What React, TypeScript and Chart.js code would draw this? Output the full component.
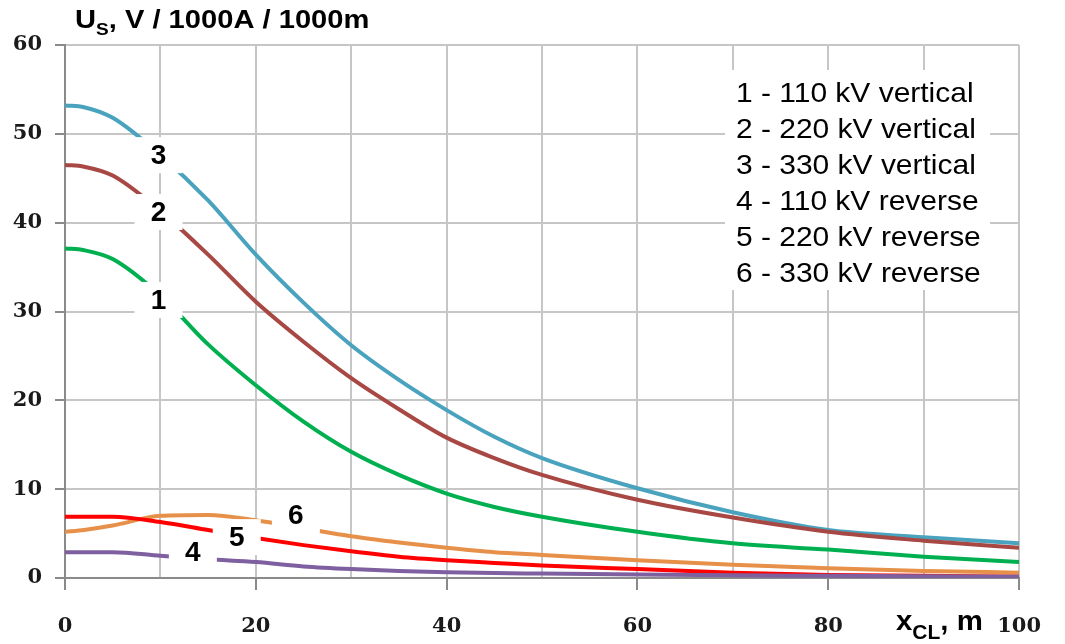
import React, { useEffect, useRef } from "react";
import { Chart, registerables } from "chart.js";

Chart.register(...registerables);

// Distance from centre line, m
const xValues = [0, 2, 5, 10, 15, 20, 25, 30, 35, 40, 45, 50, 60, 70, 80, 90, 100];

// U_S, V / 1000A / 1000m
const v110Vertical = [37.1, 36.9, 35.9, 31.8, 26.3, 21.7, 17.6, 14.2, 11.6, 9.5, 8.0, 6.9, 5.2, 3.9, 3.2, 2.4, 1.8];
const v220Vertical = [46.5, 46.3, 45.3, 41.3, 36.4, 31.1, 26.6, 22.5, 19.0, 15.8, 13.5, 11.6, 8.8, 6.8, 5.2, 4.2, 3.4];
const v330Vertical = [53.2, 53.0, 51.8, 47.6, 42.5, 36.4, 31.0, 26.2, 22.3, 18.9, 15.9, 13.5, 10.1, 7.4, 5.4, 4.6, 3.9];
const v110Reverse = [2.9, 2.9, 2.9, 2.5, 2.1, 1.8, 1.3, 1.0, 0.8, 0.65, 0.55, 0.5, 0.4, 0.3, 0.25, 0.2, 0.15];
const v220Reverse = [6.9, 6.9, 6.9, 6.3, 5.4, 4.5, 3.7, 3.0, 2.4, 2.0, 1.7, 1.4, 1.0, 0.6, 0.35, 0.25, 0.15];
const v330Reverse = [5.2, 5.4, 5.9, 7.0, 7.1, 6.5, 5.6, 4.7, 4.0, 3.4, 2.9, 2.6, 2.0, 1.5, 1.1, 0.8, 0.6];

const seriesValues = [v110Vertical, v220Vertical, v330Vertical, v110Reverse, v220Reverse, v330Reverse];
const seriesNames = ["1", "2", "3", "4", "5", "6"];
const legendLines = [
  "1 - 110 kV vertical",
  "2 - 220 kV vertical",
  "3 - 330 kV vertical",
  "4 - 110 kV reverse",
  "5 - 220 kV reverse",
  "6 - 330 kV reverse",
];
const seriesColors = ["#00B050", "#A84844", "#4AA3BE", "#7E5FA0", "#FF0000", "#E6904A"];
// label anchors in data units (x, y)
const labelAnchorX = [9.8, 9.8, 9.8, 13.4, 18.0, 24.2];
const labelAnchorY = [31.3, 41.2, 47.6, 2.9, 4.6, 7.1];

const yTicks = [0, 10, 20, 30, 40, 50, 60];

const annotationPlugin = {
  id: "annotations",
  afterDatasetsDraw(chart: any) {
    const ctx = chart.ctx as CanvasRenderingContext2D;
    const xs = chart.scales.x;
    const ys = chart.scales.y;
    ctx.save();
    // series number labels with white boxes
    ctx.font = "bold 28px 'Liberation Sans', Arial, sans-serif";
    ctx.textAlign = "center";
    ctx.textBaseline = "middle";
    for (let i = 0; i < seriesNames.length; i++) {
      const cx = xs.getPixelForValue(labelAnchorX[i]);
      const cy = ys.getPixelForValue(labelAnchorY[i]);
      ctx.fillStyle = "#ffffff";
      ctx.fillRect(cx - 24, cy - 18, 48, 36);
      ctx.fillStyle = "#000000";
      ctx.fillText(seriesNames[i], cx, cy + 1);
    }
    // legend box
    ctx.fillStyle = "#ffffff";
    ctx.fillRect(725, 70, 265, 220);
    ctx.fillStyle = "#000000";
    ctx.textAlign = "left";
    ctx.textBaseline = "alphabetic";
    ctx.font = "28px 'Liberation Sans', Arial, sans-serif";
    for (let i = 0; i < legendLines.length; i++) {
      ctx.save();
      ctx.translate(736, 102 + i * 36);
      ctx.scale(1.07, 1);
      ctx.fillText(legendLines[i], 0, 0);
      ctx.restore();
    }
    ctx.restore();
  },
  afterDraw(chart: any) {
    const ctx = chart.ctx as CanvasRenderingContext2D;
    ctx.save();
    ctx.fillStyle = "#000000";
    ctx.textBaseline = "alphabetic";
    ctx.textAlign = "left";
    // Title: U_S, V / 1000A / 1000m
    ctx.translate(75, 28);
    ctx.scale(1.12, 1);
    let x = 0;
    ctx.font = "bold 26px 'Liberation Sans', Arial, sans-serif";
    ctx.fillText("U", x, 0);
    x += ctx.measureText("U").width;
    ctx.font = "bold 17px 'Liberation Sans', Arial, sans-serif";
    ctx.fillText("S", x, 7);
    x += ctx.measureText("S").width;
    ctx.font = "bold 26px 'Liberation Sans', Arial, sans-serif";
    ctx.fillText(", V / 1000A / 1000m", x, 0);
    ctx.restore();

    // X axis label: x_CL, m
    ctx.save();
    ctx.fillStyle = "#000000";
    ctx.textBaseline = "alphabetic";
    ctx.textAlign = "left";
    ctx.translate(896, 630);
    ctx.scale(1.05, 1);
    x = 0;
    ctx.font = "bold 28px 'Liberation Sans', Arial, sans-serif";
    ctx.fillText("x", x, 0);
    x += ctx.measureText("x").width;
    ctx.font = "bold 20px 'Liberation Sans', Arial, sans-serif";
    ctx.fillText("CL", x, 9);
    x += ctx.measureText("CL").width;
    ctx.font = "bold 28px 'Liberation Sans', Arial, sans-serif";
    ctx.fillText(", m", x, 0);
    ctx.restore();
  },
};

export default function App() {
  const canvasRef = useRef<HTMLCanvasElement | null>(null);

  useEffect(() => {
    if (!canvasRef.current) return;
    const datasets = seriesValues.map((vals, i) => ({
      label: legendLines[i],
      data: vals.map((v, j) => ({ x: xValues[j], y: v })),
      borderColor: seriesColors[i],
      backgroundColor: seriesColors[i],
      borderWidth: 4,
      pointRadius: 0,
      tension: 0.4,
      cubicInterpolationMode: "monotone" as const,
      fill: false,
    }));
    const tickFont = { family: "'DejaVu Serif', serif", size: 21, weight: "bold" as const };
    const chart = new Chart(canvasRef.current, {
      type: "line",
      data: { datasets },
      plugins: [annotationPlugin],
      options: {
        animation: false,
        responsive: false,
        devicePixelRatio: 1,
        layout: { padding: { top: 45, right: 30, left: 0, bottom: 0 } },
        plugins: {
          legend: { display: false },
          tooltip: { enabled: false },
          title: { display: false },
        },
        scales: {
          x: {
            type: "linear",
            min: 0,
            max: 100,
            afterFit: (scale: any) => {
              scale.height = 66;
            },
            ticks: {
              stepSize: 10,
              autoSkip: false,
              maxRotation: 0,
              padding: 24,
              color: "#1a1a1a",
              font: tickFont,
              callback: (v: any) => (Number(v) % 20 === 0 ? String(v) : ""),
            },
            grid: {
              color: "#c6c6c6",
              lineWidth: 2,
              tickLength: 12,
              tickColor: (c: any) => (c.tick && c.tick.value % 20 === 0 ? "#8a8a8a" : "rgba(0,0,0,0)"),
            },
            border: { display: true, color: "#8a8a8a", width: 2 },
          },
          y: {
            type: "linear",
            min: 0,
            max: 60,
            afterFit: (scale: any) => {
              scale.width = 65;
            },
            afterBuildTicks: (scale: any) => {
              scale.ticks = yTicks.map((v) => ({ value: v }));
            },
            ticks: {
              autoSkip: false,
              padding: 13,
              color: "#1a1a1a",
              font: tickFont,
            },
            grid: {
              color: "#c6c6c6",
              lineWidth: 2,
              tickLength: 10,
              tickColor: "#8a8a8a",
            },
            border: { display: true, color: "#8a8a8a", width: 2 },
          },
        },
      },
    });
    return () => chart.destroy();
  }, []);

  return (
    <div style={{ position: "fixed", left: 0, top: 0, width: 1065, height: 644, background: "#fff" }}>
      <canvas ref={canvasRef} width={1065} height={644} style={{ display: "block" }} />
    </div>
  );
}
